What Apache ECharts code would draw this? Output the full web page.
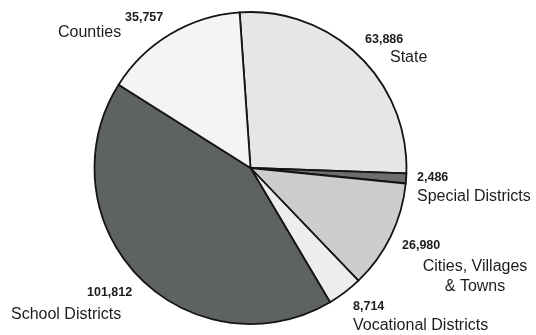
<!DOCTYPE html>
<html>
<head>
<meta charset="utf-8">
<script src="https://cdn.jsdelivr.net/npm/echarts@6/dist/echarts.min.js"></script>
<style>
  html, body { margin: 0; padding: 0; background: #ffffff; }
  #chart { width: 536px; height: 335px; }
</style>
</head>
<body>
<div id="chart"></div>
<script>
// Slices in clockwise order, starting from the top
var categories = ['State', 'Special Districts', 'Cities, Villages\n& Towns', 'Vocational Districts', 'School Districts', 'Counties'];
var values = [63886, 2486, 26980, 8714, 101812, 35757];

// Fill shade for each slice
var sliceColors = ['#e6e6e9', '#6c6f6c', '#cdcdd0', '#ededee', '#5f635f', '#f4f4f6'];

// Label placement: value line and name line for each slice
var valuePos = [[365, 40, 'left'], [417, 178, 'left'], [402, 246, 'left'], [353, 307, 'left'], [87, 293, 'left'], [125, 18, 'left']];
var namePos = [[390, 58, 'left'], [417, 197, 'left'], [475, 267, 'center'], [353, 326, 'left'], [11, 315, 'left'], [58, 33, 'left']];

var chart = echarts.init(document.getElementById('chart'), null, { renderer: 'canvas' });

var pieData = categories.map(function (name, i) {
  return { name: name, value: values[i], itemStyle: { color: sliceColors[i] } };
});

var texts = [];
categories.forEach(function (name, i) {
  texts.push({
    type: 'text',
    x: valuePos[i][0], y: valuePos[i][1],
    style: {
      text: values[i].toLocaleString('en-US'),
      fill: '#1c1c1c',
      font: 'bold 12.5px "Liberation Sans", Arial, sans-serif',
      align: valuePos[i][2], textAlign: valuePos[i][2],
      verticalAlign: 'middle', textVerticalAlign: 'middle'
    }
  });
  texts.push({
    type: 'text',
    x: namePos[i][0], y: namePos[i][1],
    style: {
      text: name,
      fill: '#1c1c1c',
      font: '16px "Liberation Sans", Arial, sans-serif',
      lineHeight: 20,
      align: namePos[i][2], textAlign: namePos[i][2],
      verticalAlign: 'top', textVerticalAlign: 'top'
    },
    // shift so the first line is centred on the given y
    y: namePos[i][1] - 10
  });
});

chart.setOption({
  animation: false,
  backgroundColor: '#ffffff',
  series: [{
    type: 'pie',
    center: [250.5, 168],
    radius: ['0%', 156],
    startAngle: 94,
    clockwise: true,
    silent: true,
    label: { show: false },
    labelLine: { show: false },
    itemStyle: { borderColor: '#141414', borderWidth: 1.8 },
    data: pieData
  }],
  graphic: texts
});
</script>
</body>
</html>
